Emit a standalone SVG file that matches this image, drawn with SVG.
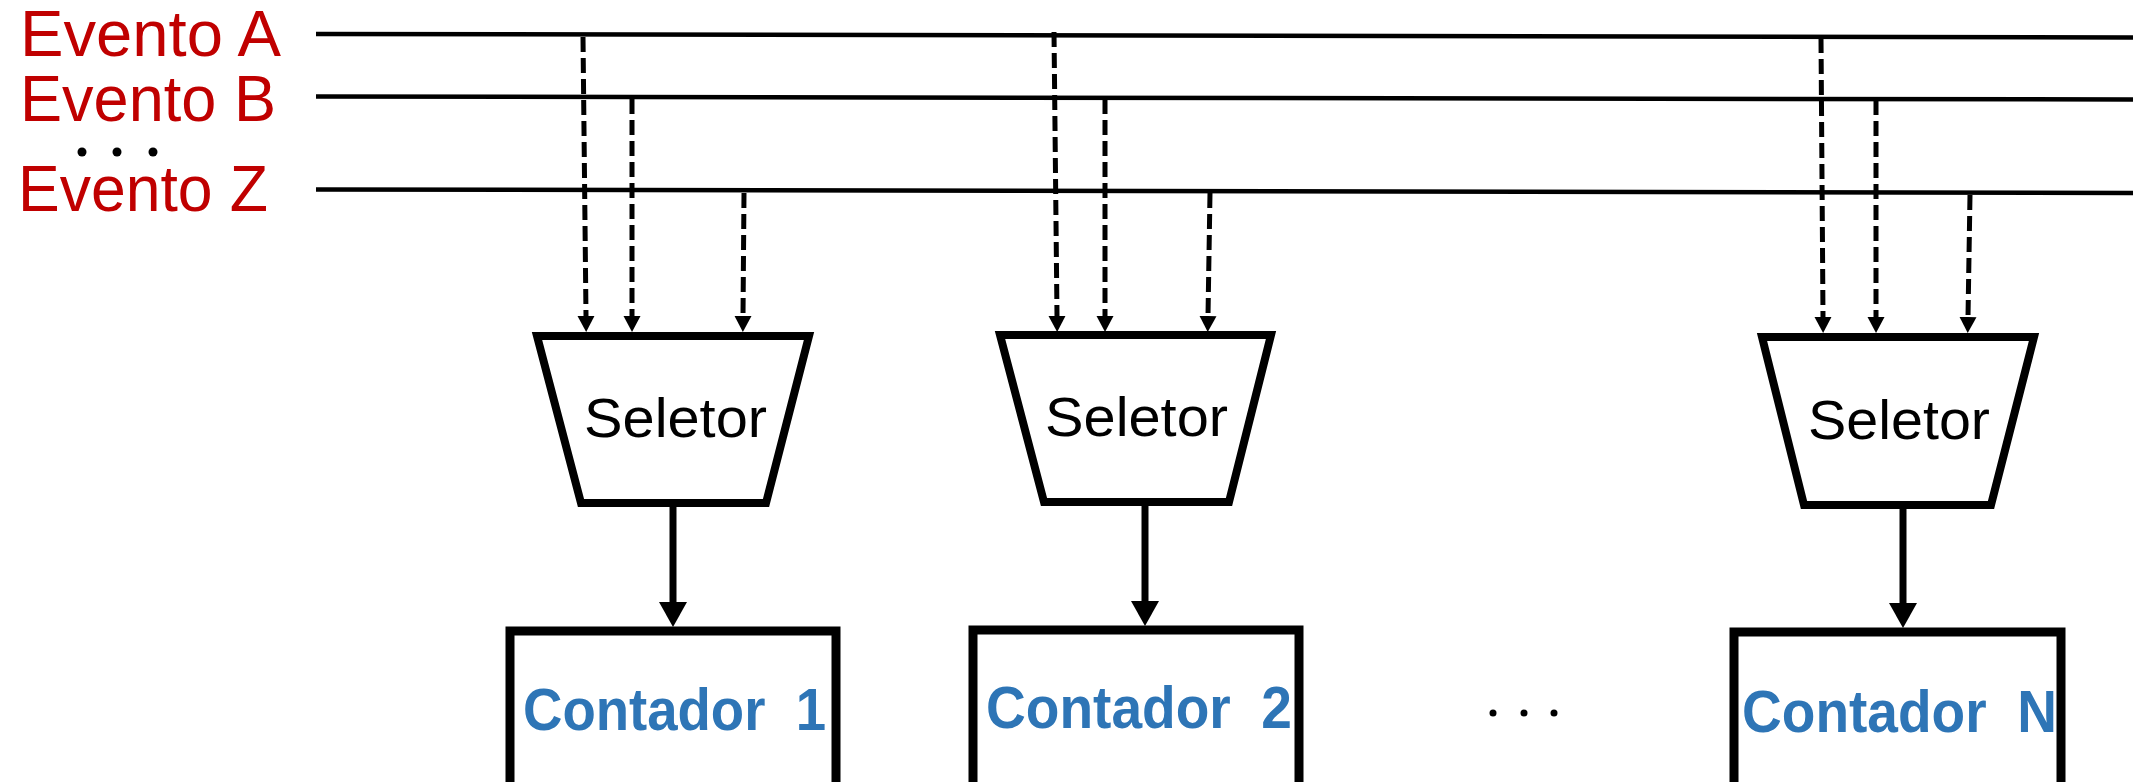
<svg xmlns="http://www.w3.org/2000/svg" width="2133" height="782" viewBox="0 0 2133 782">
<style>
.evt{font-family:"Liberation Sans",Arial,sans-serif;font-size:64px;fill:#C00000}
.sel{font-family:"Liberation Sans",Arial,sans-serif;font-size:56px;fill:#000}
.cnt{font-family:"Liberation Sans",Arial,sans-serif;font-size:59px;font-weight:bold;fill:#2E75B6}
.bus{stroke:#000;stroke-width:4.5;fill:none}
.dash{stroke:#000;stroke-width:5;fill:none;stroke-dasharray:15 6;marker-end:url(#small)}
.thick{stroke:#000;stroke-width:7;fill:none;marker-end:url(#big)}
.trap{fill:#fff;stroke:#000;stroke-width:8}
.box{fill:#fff;stroke:#000;stroke-width:9}
</style>
<defs>
<marker id="small" markerUnits="userSpaceOnUse" markerWidth="18" markerHeight="18" refX="0" refY="8.5" orient="auto" viewBox="0 0 18 17">
<path d="M0,0 L16,8.5 L0,17 z" fill="#000"/>
</marker>
<marker id="big" markerUnits="userSpaceOnUse" markerWidth="26" markerHeight="28" refX="0" refY="14" orient="auto" viewBox="0 0 26 28">
<path d="M0,0 L25,14 L0,28 z" fill="#000"/>
</marker>
</defs>
<rect width="2133" height="782" fill="#fff"/>
<g id="labels">
<text class="evt" x="20" y="56" textLength="261" lengthAdjust="spacingAndGlyphs">Evento A</text>
<text class="evt" x="20" y="121" textLength="256" lengthAdjust="spacingAndGlyphs">Evento B</text>
<circle cx="82" cy="152" r="4.5"/><circle cx="117" cy="152" r="4.5"/><circle cx="153" cy="152" r="4.5"/>
<text class="evt" x="18" y="211" textLength="250" lengthAdjust="spacingAndGlyphs">Evento Z</text>
</g>
<g id="buses">
<line class="bus" x1="316" y1="34" x2="2133" y2="37.5"/>
<line class="bus" x1="316" y1="96.5" x2="2133" y2="99.5"/>
<line class="bus" x1="316" y1="189.5" x2="2133" y2="193"/>
</g>
<g id="connectors">
<line class="dash" x1="583" y1="37" x2="586" y2="316"/>
<line class="dash" x1="632" y1="99" x2="632" y2="316"/>
<line class="dash" x1="744" y1="193" x2="743" y2="316"/>
<line class="dash" x1="1054" y1="32" x2="1057" y2="316"/>
<line class="dash" x1="1105" y1="99" x2="1105" y2="316"/>
<line class="dash" x1="1210" y1="193" x2="1208" y2="316"/>
<line class="dash" x1="1821" y1="38" x2="1823" y2="317"/>
<line class="dash" x1="1876" y1="100" x2="1876" y2="317"/>
<line class="dash" x1="1970" y1="195" x2="1968" y2="317"/>
<line class="thick" x1="673" y1="506" x2="673" y2="602"/>
<line class="thick" x1="1145" y1="505" x2="1145" y2="601"/>
<line class="thick" x1="1903" y1="508" x2="1903" y2="603"/>
</g>
<g id="selector1">
<polygon class="trap" points="537,336 809,336 766,503 581,503"/>
<text class="sel" x="584" y="437" textLength="183" lengthAdjust="spacingAndGlyphs">Seletor</text>
</g>
<g id="selector2">
<polygon class="trap" points="1000,335 1271,335 1229,502 1044,502"/>
<text class="sel" x="1045" y="436" textLength="183" lengthAdjust="spacingAndGlyphs">Seletor</text>
</g>
<g id="selectorN">
<polygon class="trap" points="1762,337 2034,337 1991,505 1804,505"/>
<text class="sel" x="1808" y="439" textLength="182" lengthAdjust="spacingAndGlyphs">Seletor</text>
</g>
<g id="contador1">
<rect class="box" x="510" y="631" width="326" height="200"/>
<text class="cnt" x="523" y="730" textLength="303" lengthAdjust="spacingAndGlyphs" xml:space="preserve">Contador  1</text>
</g>
<g id="contador2">
<rect class="box" x="973" y="630" width="326" height="200"/>
<text class="cnt" x="986" y="728" textLength="306" lengthAdjust="spacingAndGlyphs" xml:space="preserve">Contador  2</text>
</g>
<g id="contadorN">
<rect class="box" x="1734" y="632" width="327" height="200"/>
<text class="cnt" x="1742" y="732" textLength="315" lengthAdjust="spacingAndGlyphs" xml:space="preserve">Contador  N</text>
</g>
<g id="ellipsis">
<circle cx="1493" cy="713" r="3.5"/><circle cx="1524" cy="713" r="3.5"/><circle cx="1554" cy="713" r="3.5"/>
</g>
</svg>
